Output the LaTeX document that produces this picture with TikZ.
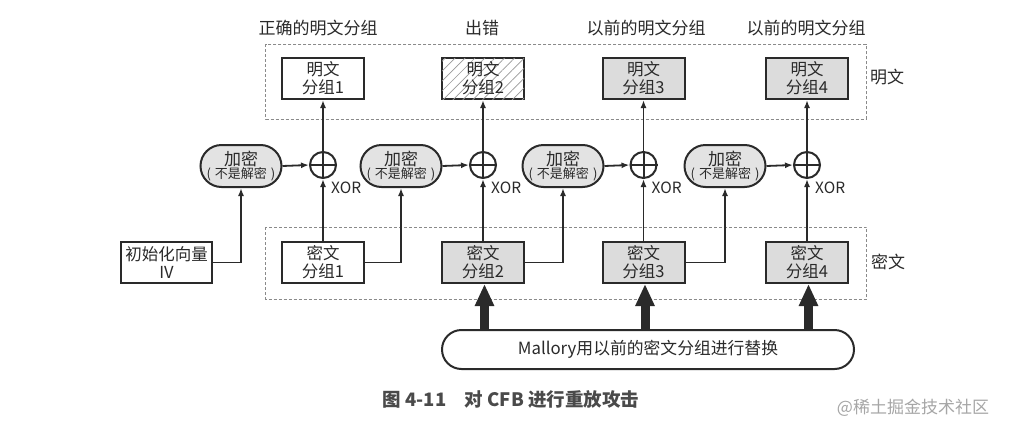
\documentclass[tikz,border=0pt]{standalone}
\usepackage{fontspec}
\setmainfont{Noto Sans CJK SC}
\usetikzlibrary{arrows.meta,shapes.misc,patterns.meta}
\definecolor{ink}{HTML}{2A2A2A}
\definecolor{shade}{HTML}{DCDCDC}
\definecolor{eshade}{HTML}{E3E3E3}
\definecolor{frame}{HTML}{8A8A8A}
\tikzset{
  blk/.style={draw=ink, line width=2pt, minimum width=82pt, minimum height=41pt,
    inner sep=0pt, align=center, font=\fontsize{16.5}{18}\selectfont, text=ink},
  gblk/.style={blk, fill=shade},
  hblk/.style={blk, fill=white, postaction={pattern={Lines[angle=45,distance=7pt,line width=0.7pt]}, pattern color=gray!80}},
  enc/.style={rounded rectangle, draw=ink, line width=2pt, fill=eshade, minimum width=81pt,
    minimum height=42pt, inner sep=0pt, align=center, text=ink},
  xorc/.style={circle, draw=ink, line width=2pt, minimum size=26pt, inner sep=0pt},
  conn/.style={draw=ink, line width=1.8pt, -{Latex[length=8pt,width=6pt]}},
  plainline/.style={draw=ink, line width=2pt},
  bigarrow/.style={draw=ink, line width=9pt, -{Triangle[length=22pt,width=18pt]}},
  fbox/.style={draw=frame, line width=1pt, dash pattern=on 3pt off 2pt},
  lbl/.style={font=\fontsize{17}{18}\selectfont, text=ink, inner sep=0pt},
  xlbl/.style={font=\fontsize{15.5}{18}\selectfont, text=ink, inner sep=0pt, anchor=west}
}
\begin{document}
\begin{tikzpicture}[x=1pt,y=-1pt]
\useasboundingbox[fill=white] (0,0) rectangle (1009,434);

% dashed frames
\draw[fbox] (265.7,44) rectangle (866,119);
\draw[fbox] (265.7,227) rectangle (866.7,299);

% top labels
\node[lbl] (t1) at (318,28) {正确的明文分组};
\node[lbl] (t2) at (482,28) {出错};
\node[lbl] (t3) at (646,28) {以前的明文分组};
\node[lbl] (t4) at (806,28) {以前的明文分组};
\node[lbl] (rp) at (887,77) {明文};
\node[lbl] (rc) at (888,262) {密文};

% plaintext blocks
\node[blk]  (p1) at (323,78.5) {明文\\分组1};
\node[hblk] (p2) at (483,78.5) {明文\\分组2};
\node[gblk] (p3) at (643.5,78.5) {明文\\分组3};
\node[gblk] (p4) at (807,78.5) {明文\\分组4};

% ciphertext blocks
\node[blk, minimum width=91pt] (iv) at (166.5,262.5) {初始化向量\\IV};
\node[blk]  (c1) at (323,262.5) {密文\\分组1};
\node[gblk] (c2) at (483,262.5) {密文\\分组2};
\node[gblk] (c3) at (643.5,262.5) {密文\\分组3};
\node[gblk] (c4) at (807,262.5) {密文\\分组4};

% encryption
\foreach \i/\x in {1/241,2/401,3/563,4/725}{
  \node[enc] (e\i) at (\x,166) {{\fontsize{17}{14}\selectfont 加密}\\[-1pt]{\fontsize{13}{12}\selectfont (\hspace{4pt}不是解密\hspace{4pt})}};
}

% XOR circles
\foreach \i/\x in {1/323,2/483,3/643.5,4/807}{
  \node[xorc] (x\i) at (\x,165) {};
  \draw[plainline] (x\i.north) -- (x\i.south) (x\i.west) -- (x\i.east);
  \node[xlbl] (xl\i) at ([xshift=8pt,yshift=-23pt]x\i.center) {XOR};
}

% connectors
\foreach \i in {1,2,3,4}{
  \draw[conn] (c\i.north) -- (x\i.south);
  \draw[conn] (x\i.north) -- (p\i.south);
  \draw[conn] (e\i.east) -- (x\i.west);
}
\draw[conn] (iv.east) -| (e1.south);
\draw[conn] (c1.east) -| (e2.south);
\draw[conn] (c2.east) -| (e3.south);
\draw[conn] (c3.east) -| (e4.south);

% Mallory
\node[rounded rectangle, draw=ink, line width=2pt, fill=white, minimum width=412pt,
  minimum height=39pt, inner sep=0pt, font=\fontsize{16.8}{18}\selectfont, text=ink]
  (m) at (648,349.5) {Mallory用以前的密文分组进行替换};
\foreach \i in {2,3,4}{
  \draw[bigarrow] ([xshift=1.5pt]c\i.south |- m.north) -- ([xshift=1.5pt]c\i.south);
}

% caption and watermark
\node[font=\fontsize{18.5}{20}\selectfont\bfseries, text=ink!85] (cap) at (511,399) {图 4-11\quad 对 CFB 进行重放攻击};
\node[font=\fontsize{17}{20}\selectfont, text=gray!70] (wm) at (913,408) {@稀土掘金技术社区};
\end{tikzpicture}
\end{document}
